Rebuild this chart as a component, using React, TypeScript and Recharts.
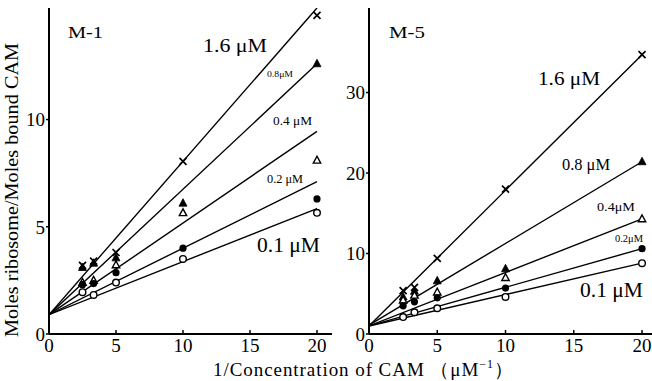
import React from "react";
import { ComposedChart, Line, Scatter, XAxis, YAxis } from "recharts";

// 1/[CAM] values (µM^-1)
const xValues = [2.5, 3.33, 5, 10, 20];
const xTicks = [0, 5, 10, 15, 20];

// M-1 panel measured points (Moles ribosome / Moles bound CAM)
const m1_16 = [3.2, 3.4, 3.8, 8.05, 14.86];
const m1_08 = [3.1, 3.3, 3.55, 6.1, 12.6];
const m1_04 = [2.4, 2.5, 3.22, 5.65, 8.1];
const m1_02 = [2.3, 2.35, 2.86, 4.0, 6.3];
const m1_01 = [1.95, 1.82, 2.4, 3.5, 5.65];
// M-1 fitted lines: [value at 0, value at 20]
const m1Lines = [
  [0.9, 15.2],
  [0.9, 12.6],
  [0.9, 9.45],
  [0.9, 7.1],
  [0.9, 5.85],
];
const m1YTicks = [0, 5, 10];

// M-5 panel measured points
const m5_16 = [5.4, 5.8, 9.4, 18.0, 34.7];
const m5_08 = [4.6, 5.3, 6.6, 8.1, 21.4];
const m5_04 = [4.2, 4.8, 5.2, 7.0, 14.3];
const m5_02 = [3.5, 4.0, 4.5, 5.7, 10.6];
const m5_01 = [2.1, 2.7, 3.2, 4.6, 8.8];
const m5Lines = [
  [1.0, 34.7],
  [1.1, 21.4],
  [1.0, 14.3],
  [1.0, 10.6],
  [1.0, 8.8],
];
const m5YTicks = [0, 10, 20, 30];

const FONT = "'Liberation Serif', 'Times New Roman', serif";

const pts = (vals: (number | null)[]) =>
  xValues.map((x, i) => ({ x, y: vals[i] })).filter((d) => d.y != null);
const lineData = (l: number[]) => [
  { x: 0, y: l[0] },
  { x: 20, y: l[1] },
];

const CrossShape = (p: any) => {
  const { cx, cy } = p;
  const s = 3.5;
  return (
    <path
      d={`M${cx - s},${cy - s}L${cx + s},${cy + s}M${cx - s},${cy + s}L${cx + s},${cy - s}`}
      stroke="#000"
      strokeWidth={1.7}
      fill="none"
    />
  );
};
const TriFilled = (p: any) => {
  const { cx, cy } = p;
  return (
    <path d={`M${cx},${cy - 4.5}L${cx - 4},${cy + 3}L${cx + 4},${cy + 3}Z`} fill="#000" stroke="#000" strokeWidth={0.8} />
  );
};
const TriOpen = (p: any) => {
  const { cx, cy } = p;
  return (
    <path d={`M${cx},${cy - 4}L${cx - 3.7},${cy + 2.8}L${cx + 3.7},${cy + 2.8}Z`} fill="#fff" stroke="#000" strokeWidth={1.4} />
  );
};
const DotFilled = (p: any) => <circle cx={p.cx} cy={p.cy} r={3.6} fill="#000" />;
const DotOpen = (p: any) => <circle cx={p.cx} cy={p.cy} r={3.3} fill="#fff" stroke="#000" strokeWidth={1.4} />;

const XTick = (p: any) => {
  const { x, y, payload } = p;
  return (
    <g>
      {payload.value !== 0 && <line x1={x} y1={y} x2={x} y2={y - 4} stroke="#000" strokeWidth={1.5} />}
      <text x={x} y={y + 18} textAnchor="middle" fontSize={19} fontFamily={FONT} fill="#000">
        {payload.value}
      </text>
    </g>
  );
};

const shapes = [CrossShape, TriFilled, TriOpen, DotFilled, DotOpen];

function Panel(props: {
  left: number;
  width: number;
  xMax: number;
  yMax: number;
  yTicks: number[];
  series: number[][];
  lines: number[][];
}) {
  const { left, width, xMax, yMax, yTicks, series, lines } = props;
  return (
    <div style={{ position: "absolute", left, top: 0 }}>
      <ComposedChart width={width} height={381} margin={{ top: 8, right: 0, left: 0, bottom: 0 }}>
        <XAxis
          dataKey="x"
          type="number"
          domain={[0, xMax]}
          ticks={xTicks}
          allowDataOverflow
          height={47}
          tickSize={0}
          tickMargin={0}
          tickLine={false}
          axisLine={{ stroke: "#000", strokeWidth: 2 }}
          tick={<XTick />}
        />
        <YAxis
          dataKey="y"
          type="number"
          domain={[0, yMax]}
          ticks={yTicks}
          allowDataOverflow
          width={49}
          tickSize={3}
          tickMargin={1}
          tickLine={{ stroke: "#000", strokeWidth: 1.5 }}
          axisLine={{ stroke: "#000", strokeWidth: 2 }}
          tick={{ fill: "#000", fontSize: 19, fontFamily: FONT }}
        />
        {lines.map((l, i) => (
          <Line
            key={"l" + i}
            data={lineData(l)}
            dataKey="y"
            type="linear"
            stroke="#000"
            strokeWidth={1.4}
            dot={false}
            activeDot={false}
            isAnimationActive={false}
          />
        ))}
        {series.map((s, i) => (
          <Scatter key={"s" + i} data={pts(s)} dataKey="y" shape={shapes[i]} isAnimationActive={false} />
        ))}
      </ComposedChart>
    </div>
  );
}

const T = (p: { x: number; y: number; fs: number; tl: number; children: React.ReactNode }) => (
  <text x={p.x} y={p.y} fontSize={p.fs} fontFamily={FONT} fill="#000" textLength={p.tl} lengthAdjust="spacingAndGlyphs">
    {p.children}
  </text>
);

export default function App() {
  return (
    <div style={{ position: "absolute", left: 0, top: 0, width: 652, height: 381, background: "#fff", overflow: "hidden" }}>
      <Panel
        left={0}
        width={332}
        xMax={21.12}
        yMax={15.2}
        yTicks={m1YTicks}
        series={[m1_16, m1_08, m1_04, m1_02, m1_01]}
        lines={m1Lines}
      />
      <Panel
        left={320}
        width={332}
        xMax={20.73}
        yMax={40.5}
        yTicks={m5YTicks}
        series={[m5_16, m5_08, m5_04, m5_02, m5_01]}
        lines={m5Lines}
      />
      <svg width={652} height={381} style={{ position: "absolute", left: 0, top: 0, pointerEvents: "none" }}>
        <text
          x={18}
          y={190}
          transform="rotate(-90 18 190)"
          textAnchor="middle"
          fontSize={18}
          fontFamily={FONT}
          fill="#000"
          textLength={294}
          lengthAdjust="spacingAndGlyphs"
        >
          Moles ribosome/Moles bound CAM
        </text>
        <text x={213} y={376} fontSize={19} fontFamily={FONT} fill="#000" textLength={300} lengthAdjust="spacing">
          1/Concentration of CAM （μM
          <tspan fontSize={12} dy={-8}>−1</tspan>
          <tspan dy={8}>）</tspan>
        </text>
        <T x={68} y={38} fs={16} tl={35}>M-1</T>
        <T x={203} y={52} fs={18} tl={64}>1.6 μM</T>
        <T x={267} y={77} fs={8} tl={26}>0.8μM</T>
        <T x={273} y={125} fs={13} tl={39}>0.4 μM</T>
        <T x={267} y={183} fs={13} tl={36}>0.2 μM</T>
        <T x={257} y={252} fs={20} tl={63}>0.1 μM</T>
        <T x={389} y={38} fs={16} tl={36}>M-5</T>
        <T x={538} y={85} fs={18} tl={62}>1.6 μM</T>
        <T x={562} y={170} fs={16} tl={48}>0.8 μM</T>
        <T x={597} y={211} fs={12} tl={38}>0.4μM</T>
        <T x={615} y={242} fs={10} tl={28}>0.2μM</T>
        <T x={580} y={297} fs={20} tl={63}>0.1 μM</T>
      </svg>
    </div>
  );
}
